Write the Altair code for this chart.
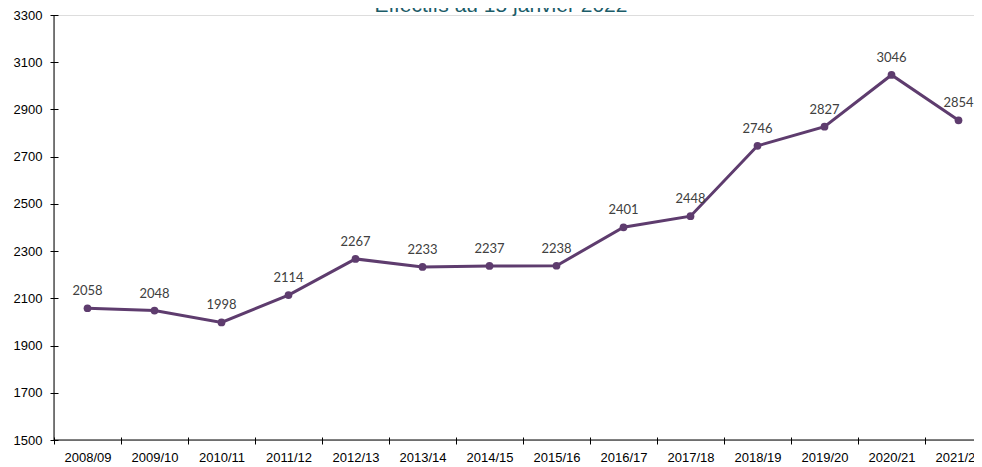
import altair as alt
import pandas as pd

title_text = "Effectifs au 15 janvier 2022"
years = ["2008/09", "2009/10", "2010/11", "2011/12", "2012/13", "2013/14", "2014/15",
         "2015/16", "2016/17", "2017/18", "2018/19", "2019/20", "2020/21", "2021/22"]
values = [2058, 2048, 1998, 2114, 2267, 2233, 2237, 2238, 2401, 2448, 2746, 2827, 3046, 2854]
y_ticks = [1500, 1700, 1900, 2100, 2300, 2500, 2700, 2900, 3100, 3300]

W, H = 920, 425
BAND_RANGE = 938
LINE = "#5E3C6E"

df = pd.DataFrame({"year": years, "value": values})
ticks_df = pd.DataFrame({"v": y_ticks})

x_enc = alt.X("year:N", sort=years,
              scale=alt.Scale(type="band", domain=years, range=[0, BAND_RANGE],
                              paddingInner=0, paddingOuter=0),
              axis=alt.Axis(title=None, labelAngle=0, domain=False, tickBand="extent",
                            tickSize=7, offset=-3, tickColor="black", labelColor="black",
                            labelFont="Liberation Sans", labelFontSize=13, labelPadding=7,
                            grid=False))
y_enc = alt.Y("value:Q",
              scale=alt.Scale(domain=[1500, 3300], nice=False, zero=False),
              axis=alt.Axis(title=None, values=y_ticks, format="d", domain=False, tickSize=8,
                            offset=-4, tickColor="black", labelColor="black",
                            labelFont="Liberation Sans", labelFontSize=13, labelPadding=8,
                            grid=False))

base = alt.Chart(df)
line = base.mark_line(color=LINE, strokeWidth=3).encode(x=x_enc, y=y_enc)
pts = base.mark_circle(color=LINE, size=60, opacity=1).encode(x=alt.X("year:N", sort=years), y="value:Q")
labels = base.mark_text(dy=-17, font="Lato", fontSize=13, color="#404040").encode(
    x=alt.X("year:N", sort=years), y="value:Q", text="value:Q")

yaxis_line = alt.Chart(ticks_df.head(1)).mark_rule(color="black", strokeWidth=1).encode(
    x=alt.value(0), y=alt.value(0), y2=alt.value(H))
xaxis_line = alt.Chart(ticks_df.head(1)).mark_rule(color="black", strokeWidth=1).encode(
    x=alt.value(0), x2=alt.value(BAND_RANGE), y=alt.value(H))

title = alt.Chart(pd.DataFrame({"t": [title_text]})).mark_text(
    font="Liberation Sans", fontSize=21, color="#1B5C68", align="center",
    baseline="alphabetic").encode(text="t:N", x=alt.value(447), y=alt.value(-3))

chart = alt.layer(line, pts, labels, yaxis_line, xaxis_line, title).properties(
    width=W, height=H,
    autosize=alt.AutoSizeParams(type="none"),
    padding={"left": 46, "top": 7, "right": 0, "bottom": 27},
).configure_view(stroke=None).configure(background="white")

chart.save("out.html", embed_options={"renderer": "svg", "actions": False})
